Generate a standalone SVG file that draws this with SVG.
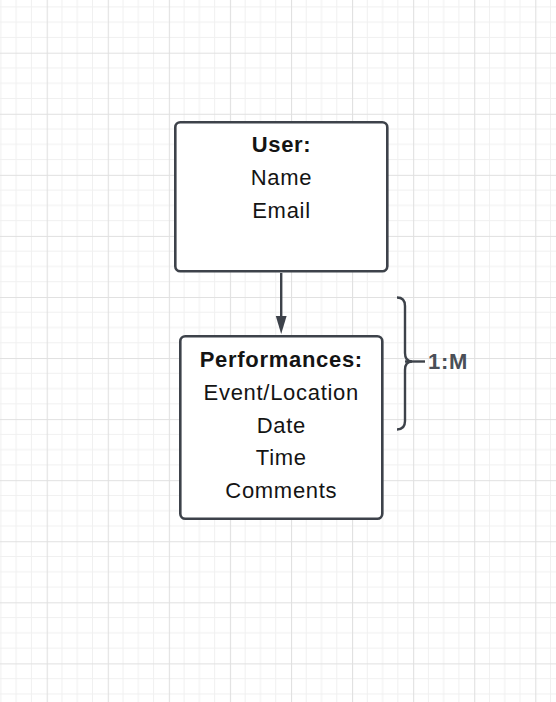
<svg xmlns="http://www.w3.org/2000/svg" width="556" height="702" viewBox="0 0 556 702">
  <style>
    .box { fill: #ffffff; stroke: #3d424a; stroke-width: 2.6; }
    .t { font-family: "Liberation Sans", Arial, sans-serif; font-size: 22px; letter-spacing: 0.7px; fill: #141414; text-anchor: middle; }
    .b { font-weight: bold; }
    .conn { fill: none; stroke: #3d424a; stroke-width: 2.4; }
    .head { fill: #3d424a; stroke: none; }
    .lbl { font-family: "Liberation Sans", Arial, sans-serif; font-size: 22px; font-weight: bold; letter-spacing: 0.7px; fill: #4a4f57; }
  </style>
  <defs>
    <pattern id="grid" patternUnits="userSpaceOnUse" x="46.7" y="52.7" width="61.07" height="61.07">
      <path d="M15.27,0V61.07M30.53,0V61.07M45.8,0V61.07M0,15.27H61.07M0,30.53H61.07M0,45.8H61.07" stroke="#f0f0f0" stroke-width="1" fill="none"/>
      <path d="M0.5,0V61.07M0,0.5H61.07" stroke="#e0e0e0" stroke-width="1.2" fill="none"/>
    </pattern>
  </defs>
  <rect width="556" height="702" fill="#ffffff"/>
  <rect width="556" height="702" fill="url(#grid)"/>

  <g id="connectors">
    <line class="conn" x1="281.2" y1="273" x2="281.2" y2="320"/>
    <path class="head" d="M275.8,316 L286.6,316 L281.2,334 Z"/>
    <path class="conn" d="M397,297.5 Q405,297.5 405,306 L405,353 Q405,361.5 412,361.5 Q405,361.5 405,370 L405,421 Q405,429.5 397,429.5"/>
    <line class="conn" x1="405" y1="361.5" x2="425" y2="361.5"/>
    <text class="lbl" x="428" y="369">1:M</text>
  </g>

  <g id="user">
    <rect class="box" x="175.3" y="122.3" width="212" height="149" rx="5"/>
    <text class="t b" x="281.5" y="151.7">User:</text>
    <text class="t" x="281.5" y="185">Name</text>
    <text class="t" x="281.5" y="217.5">Email</text>
  </g>

  <g id="performances">
    <rect class="box" x="180.3" y="336.3" width="202" height="182.5" rx="5"/>
    <text class="t b" x="281.3" y="367.3">Performances:</text>
    <text class="t" x="281.3" y="400">Event/Location</text>
    <text class="t" x="281.3" y="432.5">Date</text>
    <text class="t" x="281.3" y="465">Time</text>
    <text class="t" x="281.3" y="498.3">Comments</text>
  </g>
</svg>
